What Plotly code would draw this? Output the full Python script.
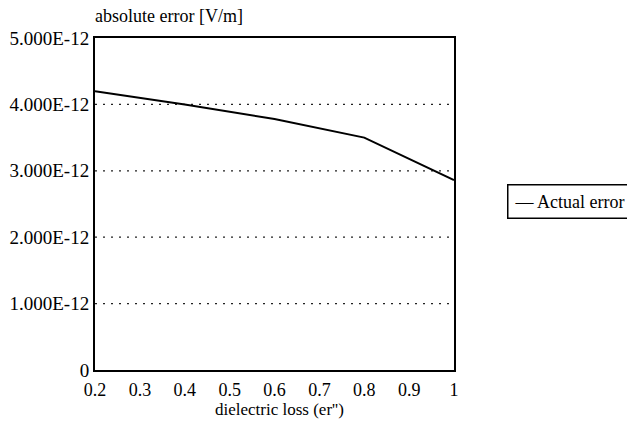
import plotly.graph_objects as go

# dielectric loss (er'') vs. absolute error [V/m]
loss = [0.2, 0.4, 0.6, 0.8, 1.0]
abs_error = [4.2e-12, 4.0e-12, 3.78e-12, 3.5e-12, 2.86e-12]

y_ticks = [0, 1e-12, 2e-12, 3e-12, 4e-12, 5e-12]
y_tick_text = ["0", "1.000E-12", "2.000E-12", "3.000E-12", "4.000E-12", "5.000E-12"]
x_ticks = [0.2, 0.3, 0.4, 0.5, 0.6, 0.7, 0.8, 0.9, 1.0]
x_tick_text = ["0.2", "0.3", "0.4", "0.5", "0.6", "0.7", "0.8", "0.9", "1"]

FONT = "Liberation Serif"

fig = go.Figure()
fig.add_trace(go.Scatter(
    x=loss, y=abs_error, mode="lines", name="Actual error",
    line=dict(color="black", width=2), showlegend=False,
))

# dotted horizontal grid at the inner ticks
for v in y_ticks[1:-1]:
    fig.add_shape(type="line", xref="paper", x0=0, x1=1, yref="y", y0=v, y1=v,
                  line=dict(color="#222", width=1.3, dash="2px,6px"), layer="below")

axis_common = dict(
    showgrid=False, zeroline=False, showline=True, mirror=True,
    linecolor="black", linewidth=2, ticks="", automargin=False,
)

fig.update_layout(
    width=627, height=421,
    margin=dict(l=95, r=173, t=38, b=51),
    paper_bgcolor="white", plot_bgcolor="white",
    font=dict(family=FONT, size=18, color="black"),
    xaxis=dict(range=[0.2, 1.0], tickvals=x_ticks, ticktext=x_tick_text,
               ticklabelstandoff=2, tickfont=dict(size=18), **axis_common),
    yaxis=dict(range=[0, 5e-12], tickvals=y_ticks, ticktext=y_tick_text,
               tickfont=dict(size=19), **axis_common),
    annotations=[
        dict(text="absolute error [V/m]", xref="paper", yref="paper",
             x=-0.005, y=1.03, xanchor="left", yanchor="bottom",
             showarrow=False, font=dict(size=18)),
        dict(text="dielectric loss (er'')", xref="paper", yref="paper",
             x=0.515, y=-0.12, xanchor="center", yanchor="middle",
             showarrow=False, font=dict(size=17)),
        dict(text="— Actual error", xref="paper", yref="paper",
             x=1.148, y=0.508, xanchor="left", yanchor="middle",
             showarrow=False, font=dict(size=18),
             bordercolor="black", borderwidth=1.5, borderpad=6, bgcolor="white"),
    ],
)

fig.write_html("out.html")
